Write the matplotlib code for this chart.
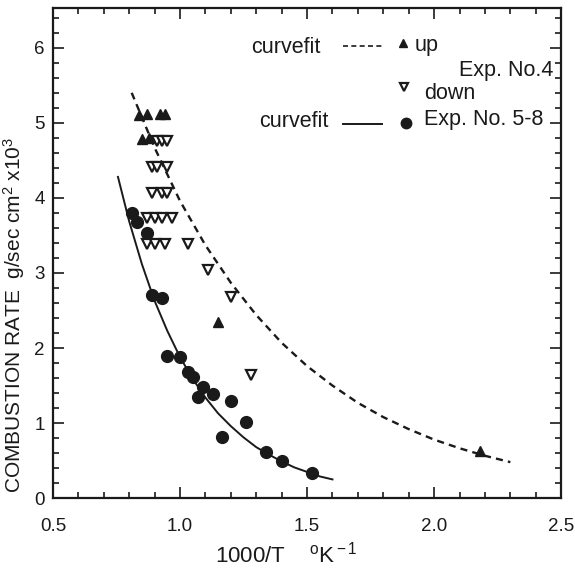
import matplotlib
matplotlib.use("agg")
import matplotlib.pyplot as plt
from matplotlib.ticker import MultipleLocator

plt.rcParams['font.family'] = ['Liberation Sans', 'DejaVu Sans']
plt.rcParams['mathtext.fontset'] = 'custom'
plt.rcParams['mathtext.rm'] = 'Liberation Sans'
plt.rcParams['mathtext.it'] = 'Liberation Sans'

# Exp. No.4, heating (up)
up_x = [0.84, 0.87, 0.92, 0.94, 0.85, 0.88, 1.15, 2.18]
up_y = [5.10, 5.12, 5.12, 5.12, 4.78, 4.80, 2.35, 0.63]

# Exp. No.4, cooling (down)
down_x = [0.91, 0.93, 0.95,
          0.89, 0.91, 0.95,
          0.89, 0.93, 0.95,
          0.87, 0.90, 0.93, 0.97,
          0.87, 0.90, 0.94, 1.03,
          1.11, 1.20, 1.28]
down_y = [4.76, 4.76, 4.76,
          4.41, 4.41, 4.41,
          4.07, 4.07, 4.07,
          3.73, 3.73, 3.73, 3.73,
          3.38, 3.38, 3.38, 3.38,
          3.04, 2.68, 1.64]

# Exp. No. 5-8
circ_x = [0.81, 0.83, 0.87, 0.89, 0.93, 0.95, 1.00, 1.03, 1.05, 1.09,
          1.07, 1.13, 1.20, 1.26, 1.165, 1.34, 1.40, 1.52]
circ_y = [3.80, 3.68, 3.53, 2.71, 2.67, 1.89, 1.88, 1.68, 1.61, 1.48,
          1.35, 1.39, 1.30, 1.01, 0.81, 0.61, 0.49, 0.33]

# curvefit lines
dash_x = [0.81, 0.90, 1.00, 1.10, 1.20, 1.30, 1.40, 1.50, 1.60, 1.70,
          1.80, 1.90, 2.00, 2.10, 2.20, 2.30]
dash_y = [5.40, 4.67, 3.96, 3.37, 2.87, 2.44, 2.07, 1.76, 1.50, 1.27,
          1.08, 0.92, 0.78, 0.665, 0.565, 0.48]
solid_x = [0.756, 0.80, 0.85, 0.90, 0.95, 1.00, 1.05, 1.10, 1.15, 1.20,
           1.25, 1.30, 1.35, 1.40, 1.45, 1.50, 1.55, 1.60]
solid_y = [4.28, 3.69, 3.12, 2.63, 2.23, 1.88, 1.59, 1.34, 1.13, 0.96,
           0.81, 0.68, 0.58, 0.49, 0.41, 0.35, 0.29, 0.25]

ink = '#1a1a1a'

fig = plt.figure(figsize=(5.75, 5.70), dpi=100)
ax = fig.add_axes([0.092, 0.126, 0.884, 0.86])

ax.plot(dash_x, dash_y, color=ink, lw=1.7, ls=(0, (3, 2.2)))
ax.plot(solid_x, solid_y, color=ink, lw=1.4)
ax.plot(circ_x, circ_y, 'o', color=ink, ms=8.5, mec=ink)
ax.plot(down_x, down_y, 'v', mfc='white', mec=ink, mew=1.6, ms=6.5)
ax.plot(up_x, up_y, '^', color=ink, ms=7)

ax.set_xlim(0.5, 2.5)
ax.set_ylim(0, 6.53)
ax.xaxis.set_major_locator(MultipleLocator(0.5))
ax.xaxis.set_minor_locator(MultipleLocator(0.1))
ax.yaxis.set_major_locator(MultipleLocator(1))
ax.yaxis.set_minor_locator(MultipleLocator(0.2))
ax.set_xticks([0.5, 1.0, 1.5, 2.0, 2.5])
ax.set_xticklabels(['0.5', '1.0', '1.5', '2.0', '2.5'])
ax.tick_params(which='both', direction='in', top=True, right=True,
               color=ink, labelcolor=ink, labelsize=13.5, width=1.2)
ax.tick_params(which='major', length=8, pad=6)
ax.tick_params(which='minor', length=4)
ax.tick_params(axis='x', which='major', pad=14)
for s in ax.spines.values():
    s.set_linewidth(1.6)
    s.set_color(ink)

ax.set_xlabel(r'1000/T    $^{\rm o}$K$^{\rm -1}$', fontsize=16, color=ink)
ax.xaxis.set_label_coords(0.46, -0.088)
ax.set_ylabel(r'COMBUSTION RATE  g/sec cm$^{\rm 2}$ x10$^{\rm 3}$', fontsize=15,
              color=ink)
ax.yaxis.set_label_coords(-0.05, 0.373)

# legend drawn as text, like the original
T = ax.transAxes
def fx(px):
    return (px - 53) / 508.0
def fy(py):
    return (498 - py) / 490.0

lfs = 15.5
ax.text(fx(251), fy(48), 'curvefit', transform=T, fontsize=lfs, color=ink, va='center')
ax.plot([fx(343), fx(382)], [fy(46), fy(46)], transform=T, color=ink, lw=1.2,
        ls=(0, (3, 2)))
ax.plot([fx(403)], [fy(43)], '^', transform=T, color=ink, ms=6)
ax.text(fx(415), fy(46), 'up', transform=T, fontsize=lfs, color=ink, va='center')
ax.text(fx(553), fy(70), 'Exp. No.4', transform=T, fontsize=lfs, color=ink,
        va='center', ha='right')
ax.plot([fx(404)], [fy(87)], 'v', transform=T, mfc='white', mec=ink, mew=1.6, ms=5.5)
ax.text(fx(424), fy(93), 'down', transform=T, fontsize=lfs, color=ink, va='center')
ax.text(fx(259), fy(121), 'curvefit', transform=T, fontsize=lfs, color=ink, va='center')
ax.plot([fx(343), fx(382)], [fy(124), fy(124)], transform=T, color=ink, lw=1.4)
ax.plot([fx(406)], [fy(123)], 'o', transform=T, color=ink, ms=7.5)
ax.text(fx(424), fy(119), 'Exp. No. 5-8', transform=T, fontsize=lfs, color=ink,
        va='center')

fig.savefig('out.png', dpi=100)
